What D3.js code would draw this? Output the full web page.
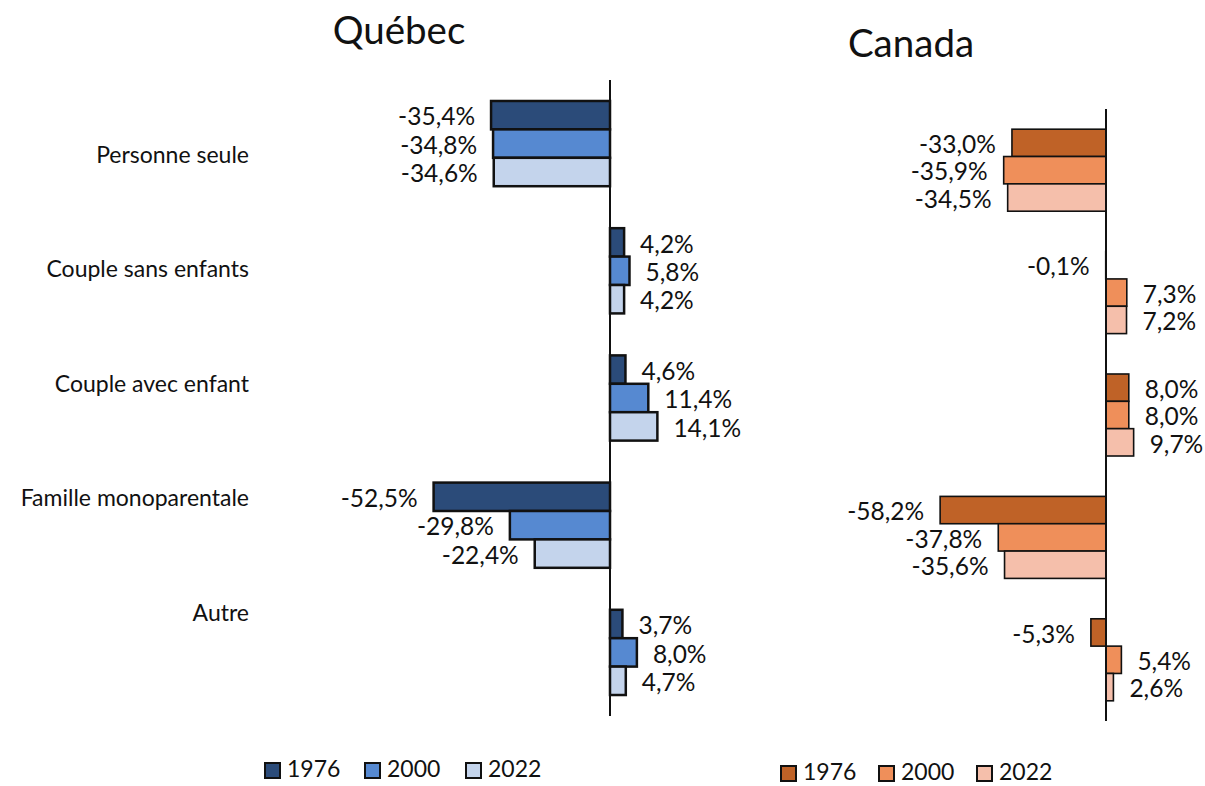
<!DOCTYPE html>
<html><head><meta charset="utf-8">
<script src="https://cdn.jsdelivr.net/npm/d3@7"></script>
<style>body{margin:0;background:#fff}svg{display:block}text{font-family:Lato,"Open Sans",sans-serif;fill:#111}</style>
</head><body><svg id="c" width="1205" height="786"></svg>
<script>
const categories = ["Personne seule","Couple sans enfants","Couple avec enfant","Famille monoparentale","Autre"];
const years = ["1976","2000","2022"];
const quebec1976 = [-35.4, 4.2, 4.6, -52.5, 3.7];
const quebec2000 = [-34.8, 5.8, 11.4, -29.8, 8.0];
const quebec2022 = [-34.6, 4.2, 14.1, -22.4, 4.7];
const canada1976 = [-33.0, -0.1, 8.0, -58.2, -5.3];
const canada2000 = [-35.9, 7.3, 8.0, -37.8, 5.4];
const canada2022 = [-34.5, 7.2, 9.7, -35.6, 2.6];
const quebecColors = ["#2b4b79","#5689d1","#c4d4ec"];
const canadaColors = ["#bf6227","#ef8f5a","#f5bfab"];

const svg = d3.select("#c");
const fmt = v => (v<0?"-":"") + Math.abs(v).toFixed(1).replace(".", ",") + "%";

function panel(opts){
  const series = opts.series;
  const x = d3.scaleLinear().domain([-60,20]).range(opts.xr);
  const y = d3.scaleBand().domain(categories).range(opts.yr).paddingInner(0.33).paddingOuter(0.165);
  const yi = d3.scaleBand().domain(years).range([0,y.bandwidth()]);
  const g = svg.append("g");
  const rows = [];
  categories.forEach((c,ci)=>years.forEach((yr,si)=>rows.push({c,yr,si,v:series[si][ci]})));
  g.selectAll("rect.bar").data(rows).join("rect")
    .attr("x", d=>Math.min(x(0),x(d.v)))
    .attr("y", d=>y(d.c)+yi(d.yr))
    .attr("width", d=>Math.abs(x(d.v)-x(0)))
    .attr("height", yi.bandwidth())
    .attr("fill", d=>opts.colors[d.si])
    .attr("stroke","#111").attr("stroke-width",opts.sw);
  g.selectAll("text.lab").data(rows).join("text")
    .attr("x", d=> d.v<0 ? x(d.v)-16 : x(d.v)+16)
    .attr("y", d=>y(d.c)+yi(d.yr)+yi.bandwidth()/2+4)
    .attr("text-anchor", d=>d.v<0?"end":"start")
    .attr("dominant-baseline","middle")
    .style("font-size","24.5px")
    .text(d=>fmt(d.v));
  g.append("line").attr("x1",x(0)).attr("x2",x(0)).attr("y1",opts.yr[0]).attr("y2",opts.yr[1])
    .attr("stroke","#111").attr("stroke-width",2);
  svg.append("text").attr("x",opts.titleX).attr("y",opts.titleY).attr("text-anchor","middle")
    .style("font-size","38.5px").text(opts.title);
  const lg = svg.append("g");
  years.forEach((yr,i)=>{
    lg.append("rect").attr("x",opts.legX[i]).attr("y",opts.legY).attr("width",15).attr("height",15)
      .attr("fill",opts.colors[i]).attr("stroke","#111").attr("stroke-width",2);
    lg.append("text").attr("x",opts.legX[i]+22).attr("y",opts.legY+8).attr("dominant-baseline","middle")
      .style("font-size","23px").text(yr);
  });
}

panel({series:[quebec1976,quebec2000,quebec2022], colors:quebecColors, xr:[408.4,677.2], yr:[80,716], sw:2.5,
  title:"Québec", titleX:399, titleY:44, legX:[265,365,466], legY:763});
panel({series:[canada1976,canada2000,canada2022], colors:canadaColors, xr:[935,1163], yr:[109,721], sw:1.6,
  title:"Canada", titleX:911, titleY:57, legX:[781,879,977], legY:766});

const ly = d3.scalePoint().domain(categories).range([155,613]);
svg.append("g").selectAll("text").data(categories).join("text")
  .attr("x",249).attr("y",d=>ly(d)+2).attr("text-anchor","end").attr("dominant-baseline","middle")
  .style("font-size","23px").text(d=>d);
</script></body></html>
